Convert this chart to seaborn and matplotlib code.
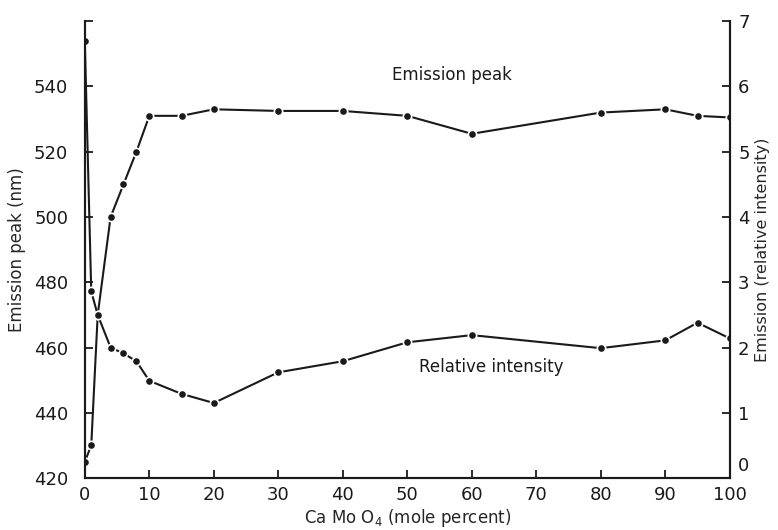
import numpy as np
import pandas as pd
import matplotlib
matplotlib.use('Agg')
import matplotlib.pyplot as plt
import matplotlib.transforms as mtransforms
import seaborn as sns

# CaMoO4 content (mole percent)
peak_x = [0, 1, 2, 4, 6, 8, 10, 15, 20, 30, 40, 50, 60, 80, 90, 95, 100]
peak_nm = [425, 430, 470, 500, 510, 520, 531, 531, 533, 532.5, 532.5, 531, 525.5, 532, 533, 531, 530.5]

rel_x = [0, 1, 2, 4, 6, 8, 10, 15, 20, 30, 40, 50, 60, 80, 90, 95, 100]
rel_int = [6.7, 2.86, 2.5, 2.0, 1.91, 1.79, 1.49, 1.29, 1.15, 1.62, 1.79, 2.08, 2.19, 1.99, 2.11, 2.38, 2.14]

x_ticks = [0, 10, 20, 30, 40, 50, 60, 70, 80, 90, 100]
left_ticks = [420, 440, 460, 480, 500, 520, 540]
right_ticks = [0, 1, 2, 3, 4, 5, 6, 7]

df_peak = pd.DataFrame({'x': peak_x, 'y': peak_nm})
df_rel = pd.DataFrame({'x': rel_x, 'y': rel_int})

sns.set_style('ticks')
plt.rcParams['font.family'] = ['DejaVu Sans']

fig = plt.figure(figsize=(7.78, 5.30), dpi=100)
ax = fig.add_axes([0.109, 0.098, 0.829, 0.862])
ax2 = ax.twinx()

line_kw = dict(color='#1a1a1a', linewidth=1.5, marker='o', markersize=6,
               markeredgecolor='white', markeredgewidth=1.2, markerfacecolor='#1a1a1a')
sns.lineplot(data=df_peak, x='x', y='y', ax=ax, **line_kw)
sns.lineplot(data=df_rel, x='x', y='y', ax=ax2, **line_kw)

ax.set_xlim(0, 100)
ax.set_ylim(420, 560)
ax2.set_ylim(0, 7)

ax.set_xticks(x_ticks)
ax.set_yticks(left_ticks + [560])
ax.set_yticklabels([str(t) for t in left_ticks] + [''])
ax2.set_yticks(right_ticks)
ax2.set_yticklabels([str(t) for t in right_ticks])

for a in (ax, ax2):
    a.spines['top'].set_visible(False)
    for s in a.spines.values():
        s.set_linewidth(1.5)
        s.set_color('#1a1a1a')
    a.tick_params(direction='in', length=6, width=1.3, labelsize=13, colors='#1a1a1a')
ax.tick_params(axis='y', pad=12)
ax.tick_params(axis='x', pad=6)
ax2.tick_params(axis='y', pad=6)

# right-axis "0" sits a little above the corner, as in the original
lab0 = ax2.get_yticklabels()[0]
lab0.set_transform(lab0.get_transform() + mtransforms.ScaledTranslation(0, 10 / 72, fig.dpi_scale_trans))

ax.set_xlabel('Ca Mo O$_4$ (mole percent)', fontsize=12, labelpad=2)
ax.set_ylabel('Emission peak (nm)', fontsize=12, labelpad=6)
ax2.set_ylabel('Emission (relative intensity)', fontsize=11.5, labelpad=4)

ax.text(57, 543.5, 'Emission peak', fontsize=12, ha='center', va='center', color='#1a1a1a')
ax.text(63, 454, 'Relative intensity', fontsize=12, ha='center', va='center', color='#1a1a1a')

ax.grid(False)
ax2.grid(False)

fig.savefig('out.png', dpi=100)
